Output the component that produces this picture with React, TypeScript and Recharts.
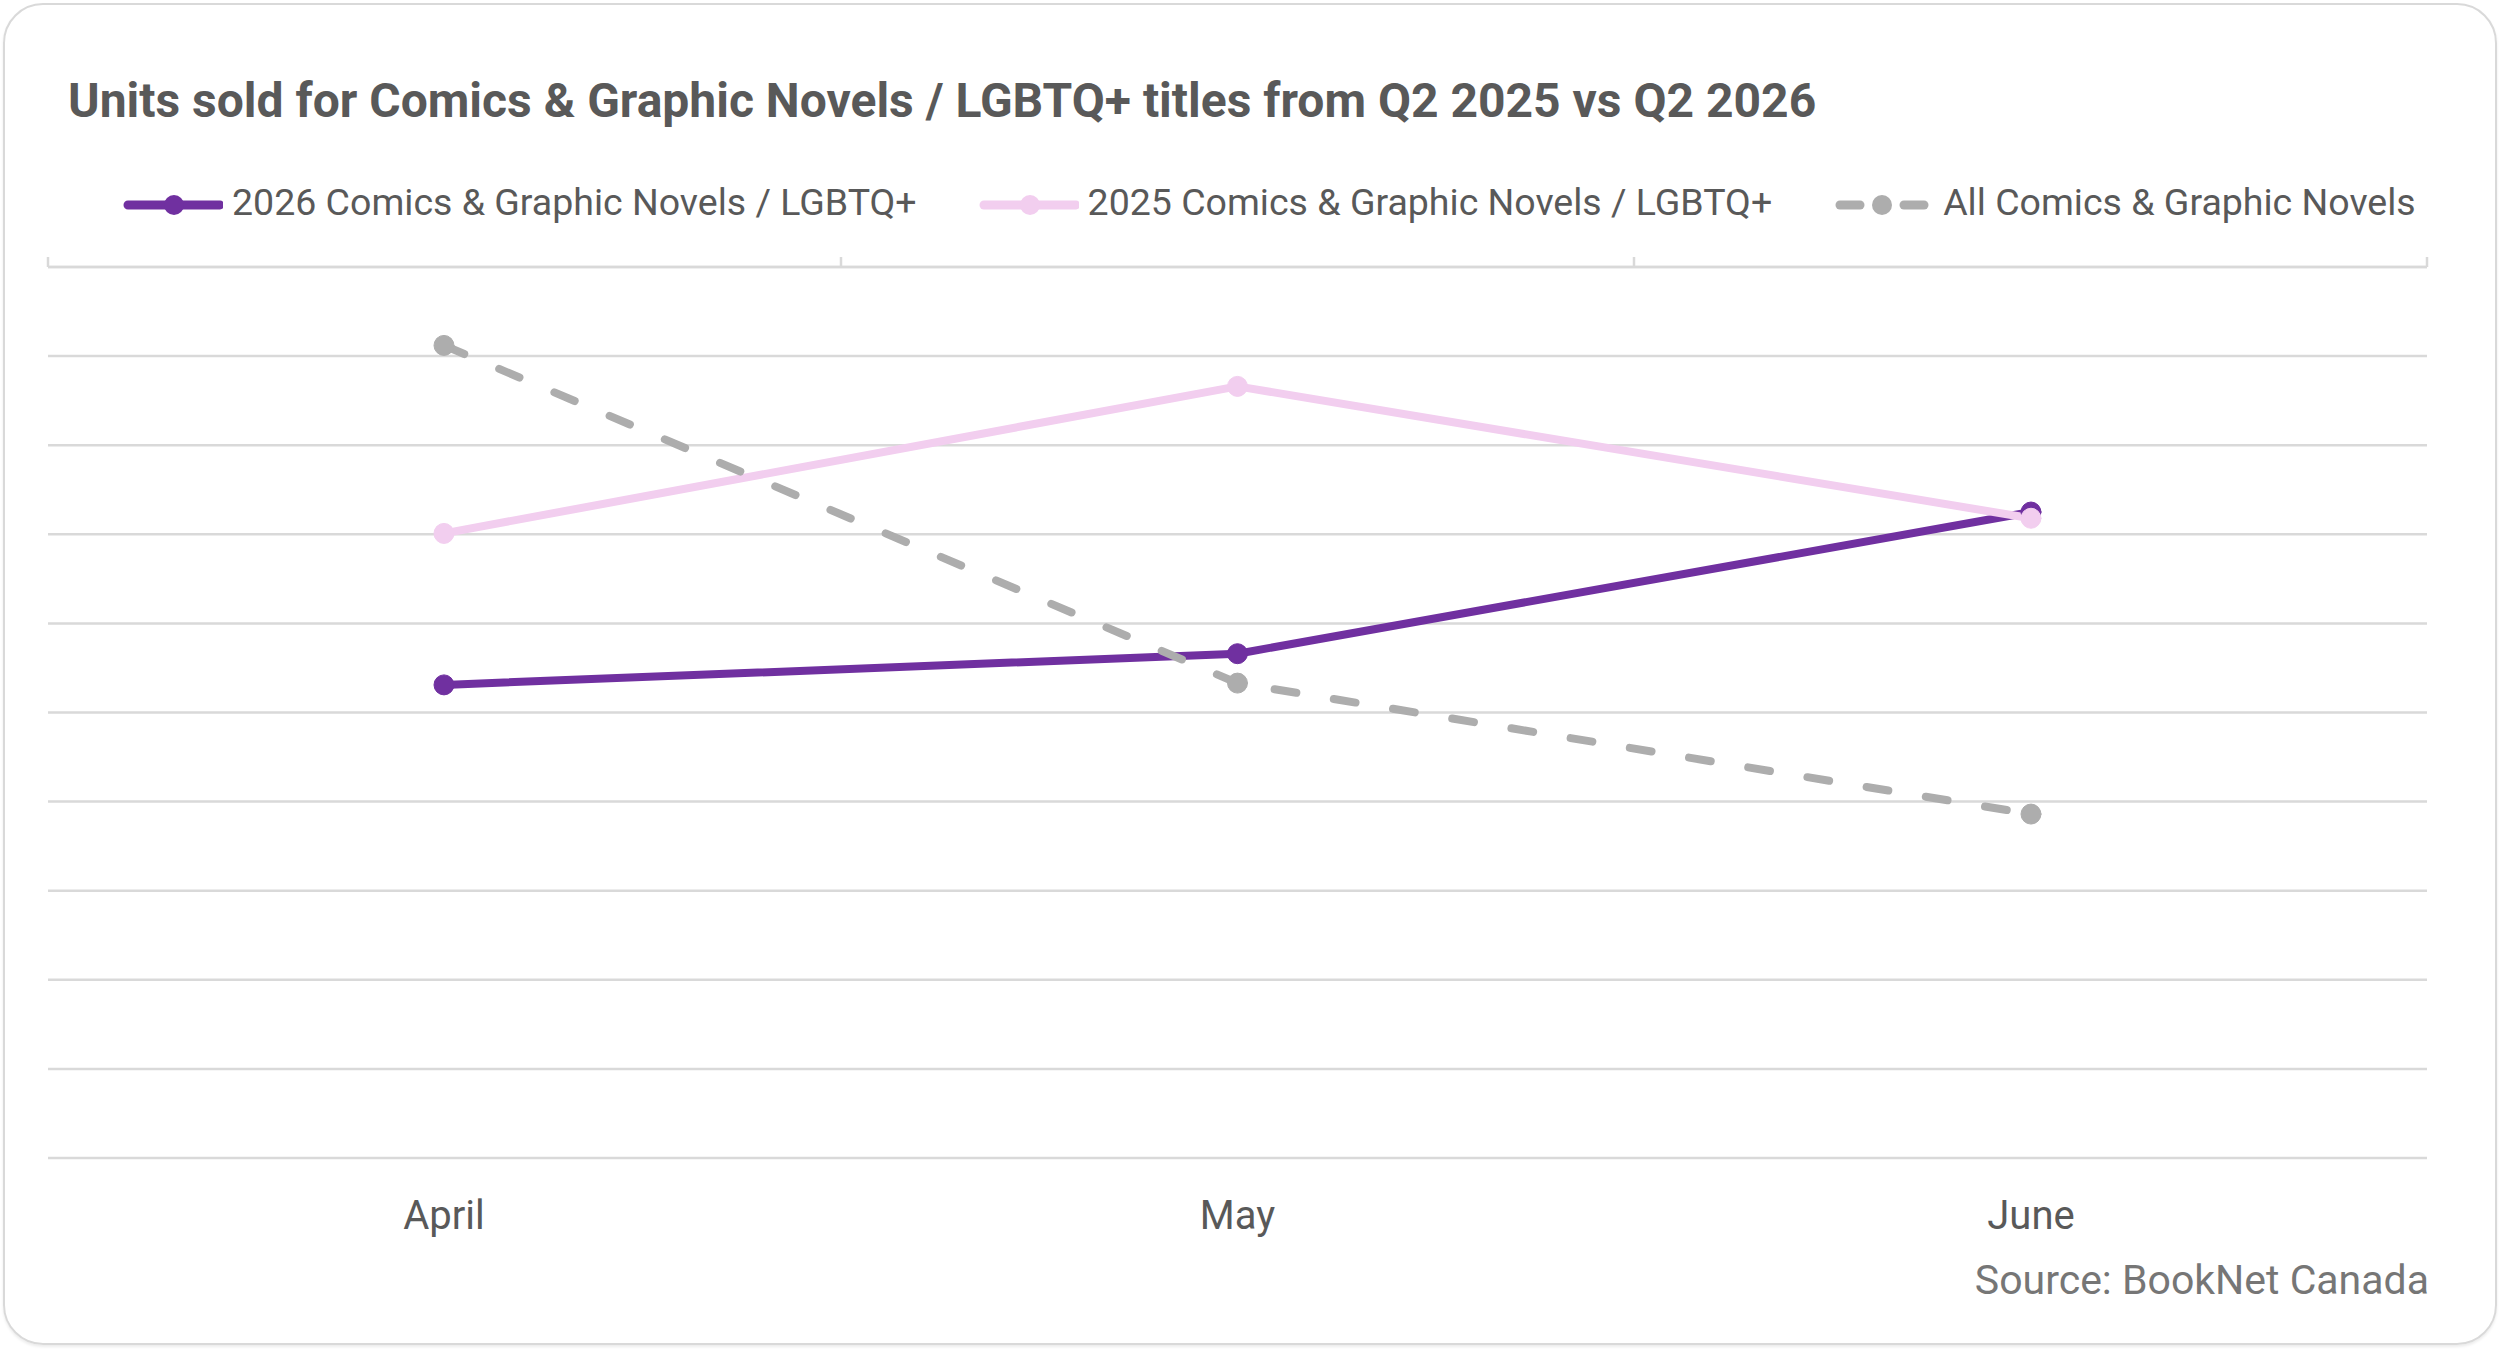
import React from 'react';
import {
  LineChart,
  Line,
  XAxis,
  YAxis,
  CartesianGrid,
} from 'recharts';

// values (no value axis shown, units = gridline steps)
const months = ['April', 'May', 'June'];
const lgbtq2026 = [5.31, 5.66, 7.25];
const lgbtq2025 = [7.01, 8.66, 7.18];
const allComics = [9.12, 5.33, 3.86];
const yTicks = [0, 1, 2, 3, 4, 5, 6, 7, 8, 9, 10];

const seriesNames = [
  '2026 Comics & Graphic Novels / LGBTQ+',
  '2025 Comics & Graphic Novels / LGBTQ+',
  'All Comics & Graphic Novels',
];

const PURPLE = '#7030A0';
const PINK = '#F2CEEF';
const GREY = '#ADADAD';
const GRID = '#D9D9D9';
const TEXT = '#595959';
const FONT = 'Roboto, "Noto Sans", sans-serif';

const data = months.map((month, i) => ({
  month,
  idx: i,
  y2026: lgbtq2026[i],
  y2025: lgbtq2025[i],
  all: allComics[i],
}));

// top axis runs over the point indices 0..2, tick marks sit on the band edges
const n = months.length;
const bandEdges = Array.from({ length: n + 1 }, (_, i) => (i * (n - 1)) / n);

const series = [
  { key: 'y2026', name: seriesNames[0], color: PURPLE, dashed: false },
  { key: 'y2025', name: seriesNames[1], color: PINK, dashed: false },
  { key: 'all', name: seriesNames[2], color: GREY, dashed: true },
];

const LegendIcon = ({ color, dashed }: { color: string; dashed: boolean }) => (
  <svg width={100} height={24} style={{ display: 'block', marginTop: 4 }}>
    {dashed ? (
      <>
        <line x1={6} y1={12} x2={26} y2={12} stroke={color} strokeWidth={9} strokeLinecap="round" />
        <line x1={70} y1={12} x2={90} y2={12} stroke={color} strokeWidth={9} strokeLinecap="round" />
        <circle cx={48} cy={12} r={10} fill={color} />
      </>
    ) : (
      <>
        <line x1={5} y1={12} x2={97} y2={12} stroke={color} strokeWidth={9} strokeLinecap="round" />
        <circle cx={51} cy={12} r={10} fill={color} />
      </>
    )}
  </svg>
);

// top axis only shows its tick marks, no labels
const NoLabel = () => <g />;

const App: React.FC = () => {
  return (
    <div style={{ position: 'relative', width: 2500, height: 1351, background: '#fff', fontFamily: FONT }}>
      <style>{'body{margin:0;}'}</style>
      <div
        style={{
          position: 'absolute',
          left: 3,
          top: 3,
          width: 2490,
          height: 1338,
          border: '2.5px solid #D9D9D9',
          borderRadius: 40,
          boxShadow: '0 2px 3px rgba(0,0,0,0.08)',
        }}
      />
      <div
        style={{
          position: 'absolute',
          left: 68,
          top: 77,
          fontSize: 48,
          lineHeight: '48px',
          fontWeight: 700,
          color: TEXT,
          whiteSpace: 'nowrap',
        }}
      >
        Units sold for Comics &amp; Graphic Novels / LGBTQ+ titles from Q2 2025 vs Q2 2026
      </div>

      <div
        style={{
          position: 'absolute',
          left: 123,
          top: 184,
          display: 'flex',
          alignItems: 'center',
          gap: 62,
          whiteSpace: 'nowrap',
        }}
      >
        {series.map(s => (
          <div key={s.key} style={{ display: 'flex', alignItems: 'center', gap: 9 }}>
            <LegendIcon color={s.color} dashed={s.dashed} />
            <span style={{ fontSize: 37.5, lineHeight: '37px', color: TEXT }}>{s.name}</span>
          </div>
        ))}
      </div>

      <div style={{ position: 'absolute', left: 0, top: 0 }}>
        <LineChart
          width={2500}
          height={1351}
          data={data}
          margin={{ top: 266, right: 73, left: 48, bottom: 133 }}
        >
          <CartesianGrid vertical={false} stroke={GRID} strokeWidth={2.5} />
          <XAxis
            dataKey="month"
            padding={{ left: 396, right: 396 }}
            axisLine={false}
            tickLine={false}
            tickSize={0}
            tickMargin={43}
            height={60}
            tick={{ fill: TEXT, fontSize: 40, fontFamily: FONT }}
          />
          <XAxis
            xAxisId="top"
            orientation="top"
            type="number"
            dataKey="idx"
            domain={[0, n - 1]}
            allowDataOverflow
            ticks={bandEdges}
            interval={0}
            height={1}
            tickSize={10}
            tick={NoLabel}
            axisLine={{ stroke: GRID, strokeWidth: 2.5 }}
            tickLine={{ stroke: GRID, strokeWidth: 2.5 }}
          />
          <YAxis hide domain={[0, 10]} ticks={yTicks} />
          {series.map(s => (
            <Line
              key={s.key}
              type="linear"
              dataKey={s.key}
              name={s.name}
              stroke={s.color}
              strokeWidth={8}
              strokeLinecap="round"
              strokeLinejoin="round"
              strokeDasharray={s.dashed ? '22 38' : undefined}
              dot={{ r: 10, fill: s.color, stroke: s.color, strokeWidth: 1, strokeDasharray: '0' }}
              activeDot={false}
              isAnimationActive={false}
            />
          ))}
        </LineChart>
      </div>

      <div
        style={{
          position: 'absolute',
          right: 71,
          top: 1260,
          fontSize: 41,
          lineHeight: '41px',
          color: '#767676',
          whiteSpace: 'nowrap',
        }}
      >
        Source: BookNet Canada
      </div>
    </div>
  );
};

export default App;
